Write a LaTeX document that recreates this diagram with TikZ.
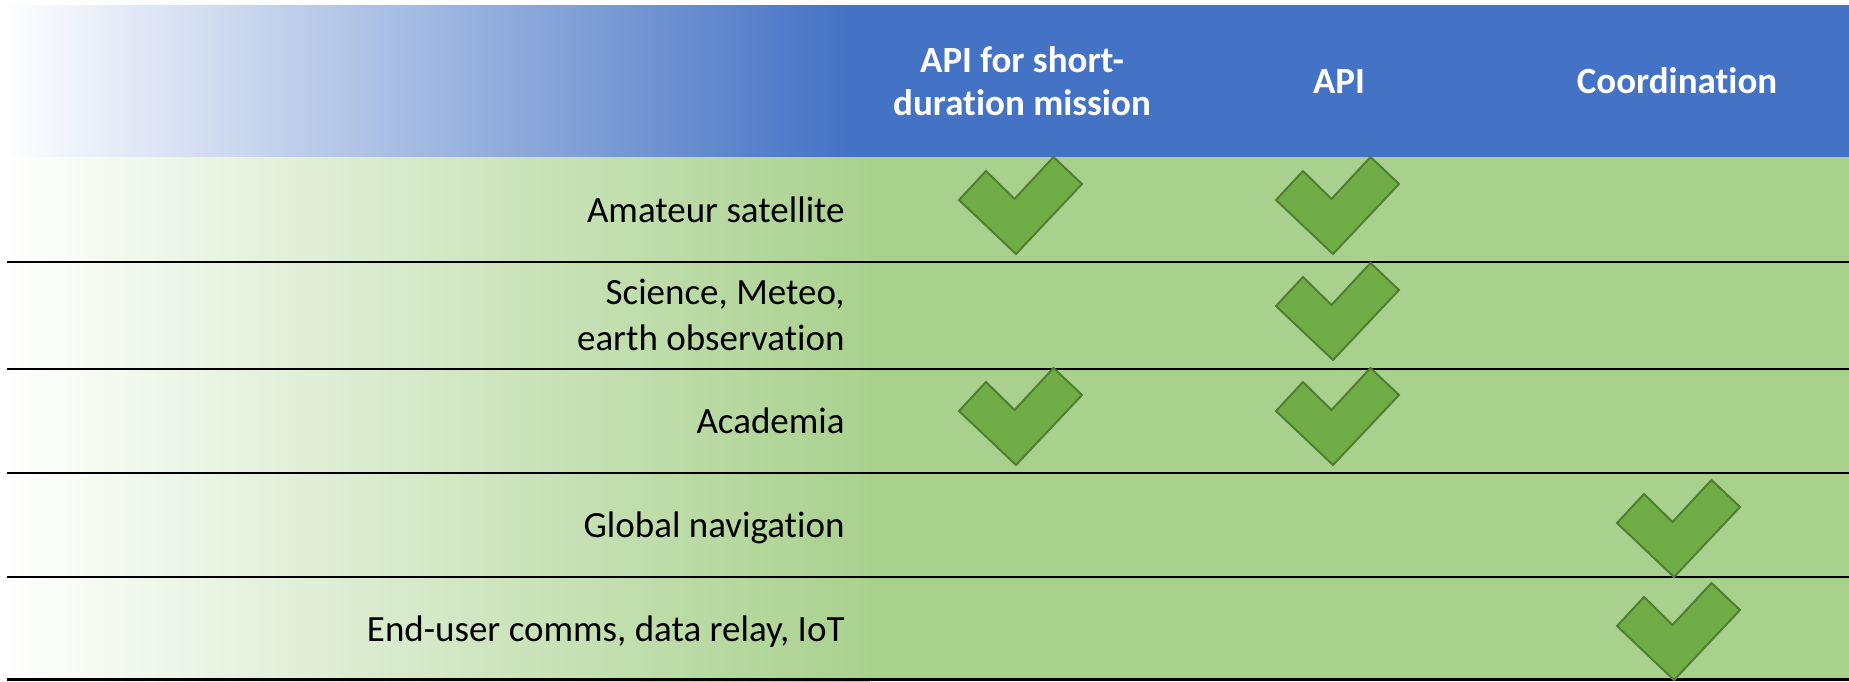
\documentclass[tikz,border=0pt]{standalone}
\usepackage{fontspec}
\setmainfont{Carlito}[Ligatures={NoCommon}]

\definecolor{hdrblue}{HTML}{4472C4}
\definecolor{rowgreen}{HTML}{A9D18E}
\definecolor{tickfill}{HTML}{70AD47}
\definecolor{tickline}{HTML}{507E32}

\tikzset{
  pics/tick/.style={code={
    \draw[tickline, fill=tickfill, line width=1pt, line join=miter]
      (0,0) -- (-57,-54) -- (-30,-83) -- (-1.5,-55) -- (37.5,-97) -- (66,-70) -- cycle;
  }},
  rowlabel/.style={anchor=base east, inner sep=0pt, font=\fontsize{18.5}{23}\selectfont},
  colhead/.style={inner sep=0pt, text=white, align=center, font=\fontsize{18.5}{21.5}\selectfont\bfseries},
  rowrule/.style={line width=1.35pt}
}

\begin{document}
\begin{tikzpicture}[x=0.5pt, y=-0.5pt]
\useasboundingbox (0,0) rectangle (1849,681);

% Header band
\fill[hdrblue] (0,5) rectangle (1849,157);
\shade[left color=white, right color=hdrblue] (0,5) rectangle (850,157);

% Body band
\fill[rowgreen] (0,157) rectangle (1849,681);
\shade[left color=white, right color=rowgreen] (0,157) rectangle (870,681);

% Column heads
\node[colhead] (h-short) at (1022,81) {API for short-\\duration mission};
\node[colhead, anchor=base] (h-api) at (1339,93) {API};
\node[colhead, anchor=base] (h-coord) at (1677,93) {Coordination};

% Row labels
\node[rowlabel] (r-amateur) at (845,222) {Amateur satellite};
\node[rowlabel, anchor=east, align=right] (r-science) at (845,315) {Science, Meteo,\\earth observation};
\node[rowlabel] (r-academia) at (845,433) {Academia};
\node[rowlabel] (r-gnss) at (845,537) {Global navigation};
\node[rowlabel] (r-enduser) at (845,641) {End-user comms, data relay, IoT};

% Rules
\draw[rowrule] (7,262) -- (1849,262);
\draw[rowrule] (7,369) -- (1849,369);
\draw[rowrule] (7,473) -- (1849,473);
\draw[rowrule] (7,577) -- (1849,577);
\draw[rowrule] (7,679.5) -- (1849,679.5);

% Ticks
\pic at (1016,254) {tick};
\pic at (1333,254) {tick};
\pic at (1333,360) {tick};
\pic at (1016,465) {tick};
\pic at (1333,465) {tick};
\pic at (1674,577) {tick};
\pic at (1674,680) {tick};

\end{tikzpicture}
\end{document}
